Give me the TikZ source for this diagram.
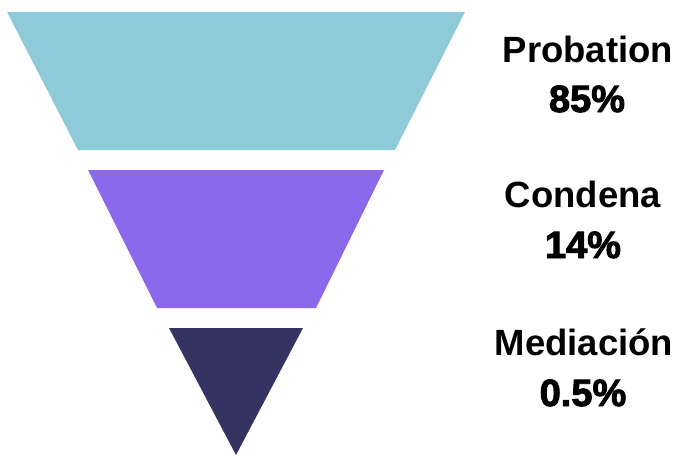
\documentclass[tikz,border=0pt]{standalone}
\usepackage{fontspec}
\setmainfont{Liberation Sans}
\newfontfamily\heavyfont[BoldFeatures={FakeBold=2.5}]{Liberation Sans}
\usepackage{xcolor}
\definecolor{myteal}{RGB}{143,202,217}
\definecolor{mypurple}{RGB}{139,103,234}
\definecolor{mynavy}{RGB}{52,51,98}

\begin{document}
\begin{tikzpicture}[x=1pt,y=-1pt]
  \tikzstyle{label}=[font=\fontsize{36.5}{40}\selectfont\bfseries,anchor=base,inner sep=0pt]
  \tikzstyle{value}=[font=\fontsize{38}{40}\selectfont\heavyfont\bfseries,anchor=base,inner sep=0pt]
  \useasboundingbox (0,0) rectangle (679,455);

  \fill[myteal]   (7,12) -- (465,12) -- (395,150) -- (78,150) -- cycle;
  \fill[mypurple] (88,170) -- (384,170) -- (316,308) -- (157,308) -- cycle;
  \fill[mynavy]   (169,328) -- (303,328) -- (236,455) -- cycle;

  \node[label] (prob)  at (588,62)  {Probation};
  \node[value] (probv) at (587,112) {85\%};
  \node[label] (cond)  at (583,207) {Condena};
  \node[value] (condv) at (583,258) {14\%};
  \node[label] (med)   at (584,355) {Mediación};
  \node[value] (medv)  at (583,406) {0.5\%};
\end{tikzpicture}
\end{document}
